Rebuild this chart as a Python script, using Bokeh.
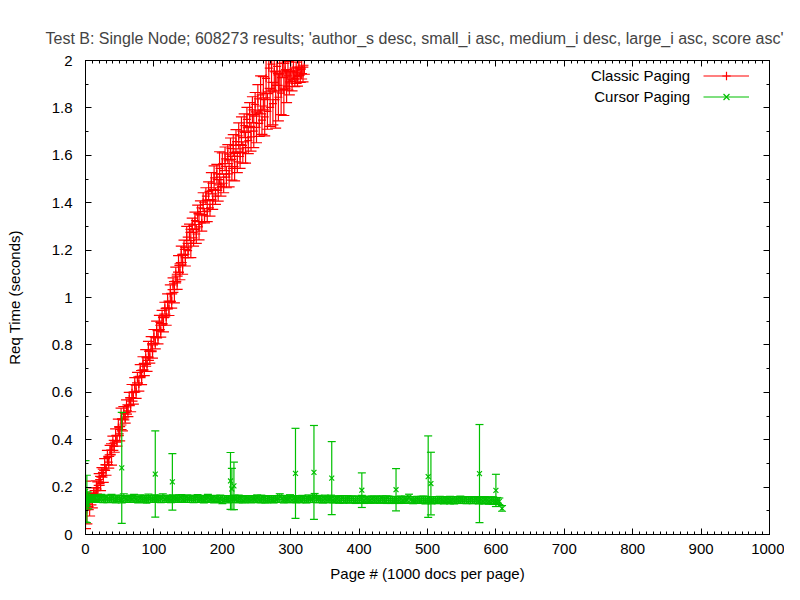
from bokeh.plotting import figure
from bokeh.models import (Range1d, LinearAxis, SingleIntervalTicker, CustomJSTickFormatter,
                          Legend, LegendItem, ColumnDataSource, Label)
from bokeh.embed import file_html
from bokeh.resources import INLINE

TITLE = "Test B: Single Node; 608273 results; 'author_s desc, small_i asc, medium_i desc, large_i asc, score asc'"
X_LABEL = "Page # (1000 docs per page)"
Y_LABEL = "Req Time (seconds)"
SERIES_NAMES = ["Classic Paging", "Cursor Paging"]

# Classic paging: every 2nd page from 0 to 320 (higher pages are above 2 s)
classic_pages = list(range(0, 322, 2))
classic_vals = [
    0.125, 0.105, 0.140, 0.118, 0.150, 0.142, 0.172, 0.165, 0.198, 0.192,
    0.232, 0.215, 0.262, 0.248, 0.295, 0.272, 0.325, 0.305, 0.356, 0.338,
    0.385, 0.372, 0.418, 0.395, 0.452, 0.425, 0.488, 0.462, 0.512, 0.492,
    0.538, 0.522, 0.572, 0.548, 0.598, 0.575, 0.632, 0.602, 0.662, 0.635,
    0.692, 0.662, 0.722, 0.695, 0.745, 0.718, 0.775, 0.748, 0.805, 0.772,
    0.835, 0.808, 0.865, 0.832, 0.895, 0.858, 0.918, 0.885, 0.955, 0.918,
    0.985, 0.952, 1.018, 0.985, 1.058, 1.022, 1.098, 1.062, 1.142, 1.105,
    1.182, 1.138, 1.212, 1.168, 1.255, 1.198, 1.275, 1.228, 1.305, 1.252,
    1.325, 1.268, 1.355, 1.298, 1.378, 1.315, 1.402, 1.345, 1.428, 1.365,
    1.448, 1.378, 1.482, 1.412, 1.505, 1.428, 1.522, 1.452, 1.545, 1.468,
    1.565, 1.482, 1.585, 1.508, 1.605, 1.522, 1.628, 1.545, 1.642, 1.552,
    1.658, 1.572, 1.682, 1.595, 1.702, 1.612, 1.725, 1.632, 1.752, 1.662,
    1.772, 1.678, 1.792, 1.702, 1.815, 1.718, 1.838, 1.735, 1.855, 1.748,
    1.862, 1.762, 1.925, 1.785, 1.968, 1.802, 1.985, 1.818, 1.952, 1.835,
    1.975, 1.845, 1.942, 1.862, 1.988, 1.878, 1.958, 1.892, 1.935, 1.905,
    1.955, 1.912, 1.968, 1.925, 1.948, 1.932, 1.972, 1.938, 1.962, 1.945,
    1.972,
]
classic_errs = [
    0.100, 0.060, 0.035, 0.040, 0.025, 0.030, 0.025, 0.020, 0.028, 0.030,
    0.025, 0.030, 0.020, 0.028, 0.025, 0.022, 0.030, 0.025, 0.020, 0.045,
    0.030, 0.025, 0.028, 0.022, 0.035, 0.030, 0.045, 0.025, 0.028, 0.022,
    0.030, 0.025, 0.028, 0.030, 0.035, 0.025, 0.030, 0.028, 0.022, 0.030,
    0.025, 0.030, 0.028, 0.025, 0.035, 0.030, 0.040, 0.025, 0.030, 0.028,
    0.030, 0.025, 0.035, 0.028, 0.030, 0.025, 0.028, 0.030, 0.025, 0.035,
    0.030, 0.028, 0.035, 0.030, 0.025, 0.045, 0.030, 0.028, 0.035, 0.030,
    0.035, 0.040, 0.030, 0.035, 0.045, 0.030, 0.035, 0.060, 0.030, 0.035,
    0.035, 0.040, 0.035, 0.055, 0.030, 0.035, 0.040, 0.030, 0.035, 0.045,
    0.040, 0.035, 0.045, 0.040, 0.050, 0.035, 0.040, 0.045, 0.070, 0.040,
    0.045, 0.040, 0.050, 0.045, 0.040, 0.055, 0.045, 0.050, 0.045, 0.060,
    0.050, 0.045, 0.055, 0.050, 0.060, 0.045, 0.050, 0.065, 0.050, 0.055,
    0.050, 0.060, 0.055, 0.070, 0.050, 0.065, 0.060, 0.055, 0.080, 0.060,
    0.070, 0.080, 0.090, 0.075, 0.100, 0.080, 0.110, 0.090, 0.085, 0.120,
    0.080, 0.100, 0.070, 0.090, 0.060, 0.110, 0.075, 0.070, 0.060, 0.050,
    0.045, 0.040, 0.050, 0.035, 0.045, 0.040, 0.035, 0.030, 0.040, 0.035,
    0.030,
]

# Cursor paging: regular pages (every 3rd page from 5 to 605)
cursor_pages = list(range(5, 608, 3))
cursor_vals = [
    0.152, 0.149, 0.151, 0.153, 0.148, 0.150, 0.152, 0.147, 0.151, 0.150,
    0.149, 0.153, 0.150, 0.148, 0.152, 0.151, 0.149, 0.154, 0.150, 0.148,
    0.151, 0.150, 0.153, 0.149, 0.147, 0.152, 0.150, 0.151, 0.148, 0.153,
    0.150, 0.149, 0.152, 0.151, 0.148, 0.150, 0.154, 0.149, 0.151, 0.150,
    0.148, 0.152, 0.150, 0.149, 0.151, 0.153, 0.148, 0.150, 0.152, 0.149,
    0.150, 0.147, 0.151, 0.152, 0.149, 0.150, 0.148, 0.151, 0.153, 0.149,
    0.150, 0.148, 0.152, 0.149, 0.151, 0.147, 0.150, 0.152, 0.148, 0.150,
    0.149, 0.151, 0.148, 0.150, 0.152, 0.147, 0.149, 0.151, 0.150, 0.148,
    0.150, 0.149, 0.152, 0.148, 0.150, 0.151, 0.147, 0.149, 0.150, 0.152,
    0.148, 0.150, 0.149, 0.160, 0.151, 0.148, 0.150, 0.149, 0.152, 0.147,
    0.150, 0.149, 0.151, 0.148, 0.150, 0.149, 0.147, 0.151, 0.149, 0.150,
    0.161, 0.148, 0.150, 0.149, 0.147, 0.150, 0.148, 0.149, 0.151, 0.146,
    0.148, 0.150, 0.147, 0.149, 0.148, 0.146, 0.150, 0.147, 0.149, 0.148,
    0.146, 0.148, 0.147, 0.149, 0.145, 0.148, 0.147, 0.146, 0.149, 0.147,
    0.148, 0.146, 0.147, 0.149, 0.145, 0.147, 0.148, 0.146, 0.147, 0.145,
    0.147, 0.146, 0.148, 0.145, 0.147, 0.146, 0.158, 0.147, 0.145, 0.146,
    0.147, 0.145, 0.146, 0.148, 0.145, 0.147, 0.146, 0.144, 0.147, 0.146,
    0.145, 0.147, 0.146, 0.144, 0.146, 0.147, 0.145, 0.146, 0.144, 0.146,
    0.145, 0.147, 0.144, 0.146, 0.145, 0.143, 0.146, 0.145, 0.144, 0.146,
    0.144, 0.145, 0.143, 0.145, 0.144, 0.142, 0.144, 0.143, 0.141, 0.143,
    0.140,
]
cursor_errs = [
    0.015, 0.013, 0.016, 0.014, 0.012, 0.015, 0.017, 0.013, 0.014, 0.016,
    0.014, 0.016, 0.013, 0.015, 0.014, 0.012, 0.016, 0.018, 0.014, 0.013,
    0.015, 0.014, 0.016, 0.013, 0.014, 0.015, 0.012, 0.014, 0.016, 0.017,
    0.013, 0.014, 0.015, 0.014, 0.012, 0.016, 0.018, 0.014, 0.015, 0.013,
    0.014, 0.015, 0.013, 0.014, 0.016, 0.015, 0.012, 0.014, 0.015, 0.014,
    0.015, 0.013, 0.014, 0.016, 0.014, 0.012, 0.015, 0.014, 0.016, 0.013,
    0.014, 0.015, 0.013, 0.014, 0.015, 0.017, 0.014, 0.012, 0.015, 0.014,
    0.013, 0.015, 0.014, 0.016, 0.012, 0.014, 0.015, 0.013, 0.014, 0.015,
    0.014, 0.013, 0.015, 0.014, 0.016, 0.013, 0.014, 0.015, 0.014, 0.012,
    0.015, 0.014, 0.013, 0.012, 0.014, 0.015, 0.013, 0.014, 0.016, 0.013,
    0.014, 0.015, 0.013, 0.014, 0.015, 0.012, 0.014, 0.016, 0.013, 0.014,
    0.012, 0.014, 0.015, 0.013, 0.014, 0.016, 0.013, 0.014, 0.015, 0.013,
    0.014, 0.013, 0.015, 0.014, 0.016, 0.012, 0.014, 0.015, 0.013, 0.014,
    0.015, 0.014, 0.013, 0.016, 0.014, 0.012, 0.015, 0.014, 0.013, 0.015,
    0.014, 0.013, 0.015, 0.014, 0.012, 0.016, 0.014, 0.015, 0.013, 0.014,
    0.013, 0.015, 0.014, 0.013, 0.015, 0.014, 0.012, 0.013, 0.015, 0.014,
    0.014, 0.013, 0.015, 0.014, 0.016, 0.012, 0.014, 0.015, 0.013, 0.014,
    0.015, 0.014, 0.013, 0.015, 0.014, 0.012, 0.016, 0.014, 0.015, 0.013,
    0.014, 0.015, 0.013, 0.014, 0.015, 0.012, 0.014, 0.015, 0.013, 0.014,
    0.015, 0.013, 0.014, 0.015, 0.012, 0.014, 0.015, 0.016, 0.014, 0.013,
    0.014,
]
# Cursor paging: pages with slow / noisy measurements
cursor_out_pages = [0, 1, 2, 3, 4, 53, 102, 127, 212, 214, 217, 307, 334, 360, 404, 454, 501, 505, 576, 600, 609]
cursor_out_vals = [0.182, 0.140, 0.150, 0.165, 0.128, 0.281, 0.255, 0.222, 0.226, 0.192, 0.205,
                   0.258, 0.262, 0.238, 0.187, 0.189, 0.244, 0.215, 0.257, 0.186, 0.110]
cursor_out_errs = [0.130, 0.020, 0.100, 0.015, 0.020, 0.234, 0.182, 0.119, 0.120, 0.087, 0.100,
                   0.190, 0.198, 0.154, 0.073, 0.089, 0.172, 0.132, 0.207, 0.068, 0.012]

RED = "#ff0000"
GREEN = "#00c000"
FONT = "Liberation Sans"
FS = "15px"


def make_source(xs, ys, es):
    return ColumnDataSource(dict(
        x=list(xs), y=list(ys),
        lo=[v - e for v, e in zip(ys, es)],
        hi=[v + e for v, e in zip(ys, es)],
    ))


src_classic = make_source(classic_pages, classic_vals, classic_errs)
c_x = cursor_out_pages[:5] + cursor_pages + cursor_out_pages[5:]
c_y = cursor_out_vals[:5] + cursor_vals + cursor_out_vals[5:]
c_e = cursor_out_errs[:5] + cursor_errs + cursor_out_errs[5:]
src_cursor = make_source(c_x, c_y, c_e)

p = figure(width=784, height=584, x_range=Range1d(0, 1000), y_range=Range1d(0, 2),
           output_backend="svg", toolbar_location=None, title=TITLE,
           min_border_left=85, min_border_right=15, min_border_top=60, min_border_bottom=50)
p.xgrid.visible = False
p.ygrid.visible = False
p.outline_line_color = "black"
p.outline_line_alpha = 1.0
p.outline_line_width = 1
p.background_fill_color = "white"
p.border_fill_color = "white"

p.title.text_font = FONT
p.title.text_font_size = "16px"
p.title.text_font_style = "normal"
p.title.align = "left"
p.title.offset = -40
p.title.standoff = 28

yfmt = CustomJSTickFormatter(code="return String(Number(tick.toFixed(1)));")
blank = CustomJSTickFormatter(code="return '';")


def style_axis(ax, interval, minor, fmt=None):
    ax.ticker = SingleIntervalTicker(interval=interval, num_minor_ticks=minor)
    ax.major_tick_in = 6
    ax.major_tick_out = 0
    ax.minor_tick_in = 3
    ax.minor_tick_out = 0
    ax.axis_line_color = "black"
    ax.major_tick_line_color = "black"
    ax.minor_tick_line_color = "black"
    ax.major_label_text_font = FONT
    ax.major_label_text_font_size = FS
    ax.major_label_text_color = "black"
    ax.axis_label_text_font = FONT
    ax.axis_label_text_font_size = FS
    ax.axis_label_text_font_style = "normal"
    ax.axis_label_text_color = "black"
    if fmt is not None:
        ax.formatter = fmt


xa = p.xaxis[0]
style_axis(xa, 100, 10)
xa.axis_label = X_LABEL
xa.major_label_standoff = 9
xa.axis_label_standoff = 8

ya = p.yaxis[0]
style_axis(ya, 0.2, 2, yfmt)
ya.axis_label = Y_LABEL
ya.major_label_standoff = 13
ya.axis_label_standoff = 26

top = LinearAxis()
style_axis(top, 100, 10, blank)
top.major_label_standoff = 0
p.add_layout(top, "above")

right = LinearAxis()
style_axis(right, 0.2, 2, blank)
right.major_label_standoff = 0
p.add_layout(right, "right")

# Classic paging
c_bar = p.segment(x0="x", y0="lo", x1="x", y1="hi", source=src_classic, line_color=RED, line_width=1.2)
p.scatter(x="x", y="hi", source=src_classic, marker="dash", size=11, line_color=RED, line_width=1.2)
p.scatter(x="x", y="lo", source=src_classic, marker="dash", size=11, line_color=RED, line_width=1.2)
c_pt = p.scatter(x="x", y="y", source=src_classic, marker="cross", size=8, line_color=RED, line_width=1.2)

# Cursor paging
k_bar = p.segment(x0="x", y0="lo", x1="x", y1="hi", source=src_cursor, line_color=GREEN, line_width=1.2)
p.scatter(x="x", y="hi", source=src_cursor, marker="dash", size=8, line_color=GREEN, line_width=1.2)
p.scatter(x="x", y="lo", source=src_cursor, marker="dash", size=8, line_color=GREEN, line_width=1.2)
k_pt = p.scatter(x="x", y="y", source=src_cursor, marker="x", size=7, line_color=GREEN, line_width=1.2)

# Key: samples drawn by a Legend (no text), names as right-aligned labels to their left
legend = Legend(
    items=[LegendItem(label=" ", renderers=[c_bar, c_pt]),
           LegendItem(label=" ", renderers=[k_bar, k_pt])],
    location=(618, 427.5), glyph_width=46, glyph_height=21, label_height=21,
    spacing=0, padding=0, margin=0, label_standoff=0, label_width=0,
    label_text_font=FONT, label_text_font_size=FS,
    background_fill_alpha=0, border_line_alpha=0,
)
p.add_layout(legend)
for name, ypos in zip(SERIES_NAMES, [1.937, 1.848]):
    p.add_layout(Label(x=884, y=ypos, text=name, text_align="right", text_baseline="middle",
                       text_font=FONT, text_font_size=FS, text_color="black"))

open("out.html", "w").write(file_html(p, INLINE))
